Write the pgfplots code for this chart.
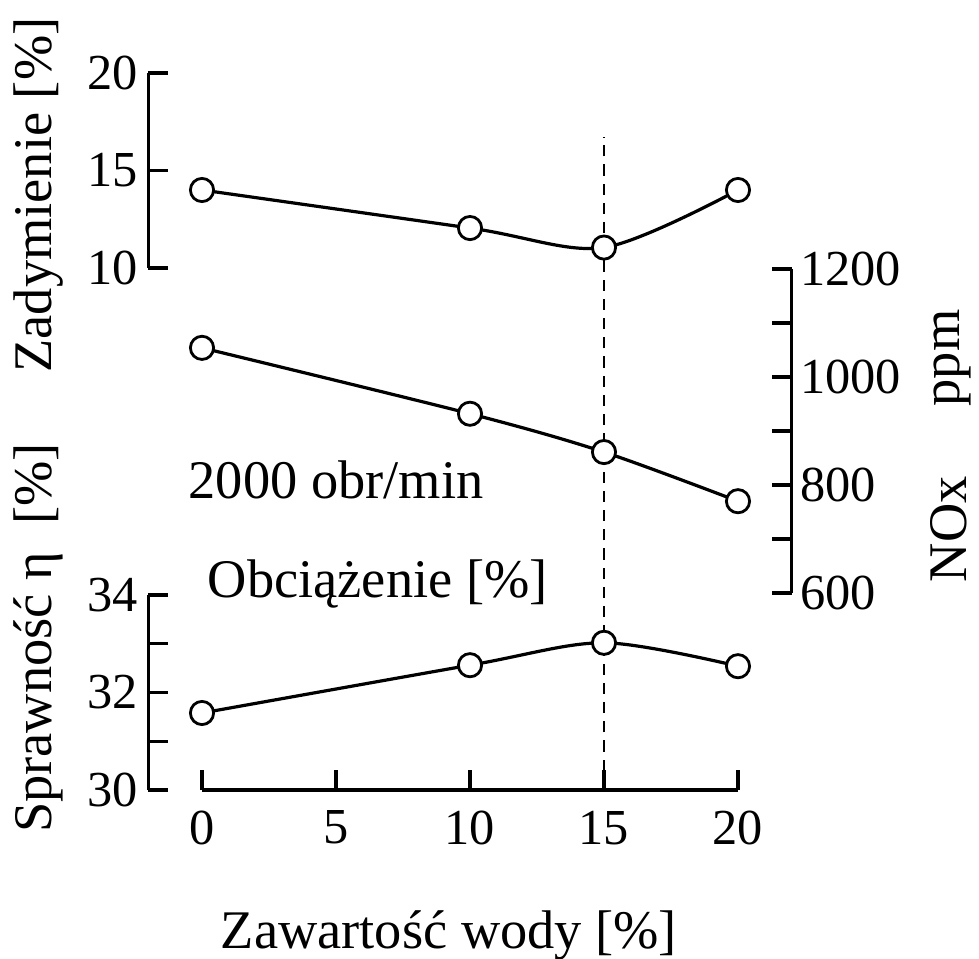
\documentclass[border=0pt]{standalone}
\usepackage{fontspec}
\setmainfont{Liberation Serif}
\usepackage{pgfplots}
\pgfplotsset{compat=1.18}

\pgfplotsset{
  common/.style={
    scale only axis, anchor=south west, clip=false,
    tick align=inside, major tick length=5pt, minor tick length=5pt,
    axis line style={line width=0.85pt, -},
    every tick/.style={line width=0.85pt, black},
    tick label style={font=\fontsize{12.6}{13}\selectfont, inner sep=0pt},
    /pgf/number format/assume math mode=true,
    /pgf/number format/1000 sep={},
  },
  panel/.style={common, width=160.8pt, xmin=-2, xmax=22, axis x line=none},
  curve/.style={black, line width=0.8pt, smooth, mark=*,
    mark size=2.9pt, mark options={fill=white, draw=black, line width=0.7pt}},
}

\begin{document}
\begin{tikzpicture}
\path[use as bounding box] (0pt,0pt) rectangle (244.75pt,239.5pt);

% x axis and dashed marker line (drawn first, under the markers)
\begin{axis}[common, at={(50.5pt,42pt)}, width=134pt, height=163.25pt,
  xmin=0, xmax=20, ymin=0, ymax=653, axis y line=none, axis x line*=bottom,
  xtick={0,5,10,15,20}, xticklabel style={yshift=-5pt}]
\addplot[black, line width=0.7pt, dash pattern=on 2.8pt off 2pt] coordinates {(15,0) (15,653)};
\end{axis}

% Zadymienie
\begin{axis}[panel, at={(37.1pt,172.5pt)}, height=48.75pt,
  ymin=10, ymax=20, ytick={10,15,20}, axis y line*=left,
  yticklabel style={xshift=-2.5pt}]
\addplot[curve] coordinates {(0,14.0) (10,12.05) (15,11.05) (20,14.0)};
\end{axis}

% NOx
\begin{axis}[panel, at={(37.1pt,91.25pt)}, height=81pt,
  ymin=600, ymax=1200, ytick={600,800,1000,1200}, minor ytick={700,900,1100},
  axis y line*=right, yticklabel style={xshift=2pt}]
\addplot[curve] coordinates {(0,1054) (10,932) (15,861) (20,770)};
\end{axis}

% Sprawnosc
\begin{axis}[panel, at={(37.1pt,42pt)}, height=48.75pt,
  ymin=30, ymax=34, ytick={30,32,34}, minor ytick={31,33},
  axis y line*=left, yticklabel style={xshift=-2.5pt}]
\addplot[curve] coordinates {(0,31.58) (10,32.56) (15,33.02) (20,32.54)};
\end{axis}

\begin{scope}[every node/.style={inner sep=0pt, font=\fontsize{13.6}{16}\selectfont}]
\node[rotate=90, anchor=base] at (13pt,190.75pt) {Zadymienie [\%]};
\node[rotate=90, anchor=base] at (13pt,80pt) {Sprawność η\ \ [\%]};
\node[rotate=90, anchor=base west] at (241.75pt,93.75pt) {NOx};
\node[rotate=90, anchor=base west] at (240pt,137.75pt) {ppm};
\node[anchor=base west] at (47pt,115pt) {2000 obr/min};
\node[anchor=base west] at (51.75pt,90.25pt) {Obciążenie [\%]};
\node[anchor=base] at (112.25pt,2.5pt) {Zawartość wody [\%]};
\end{scope}
\end{tikzpicture}
\end{document}
